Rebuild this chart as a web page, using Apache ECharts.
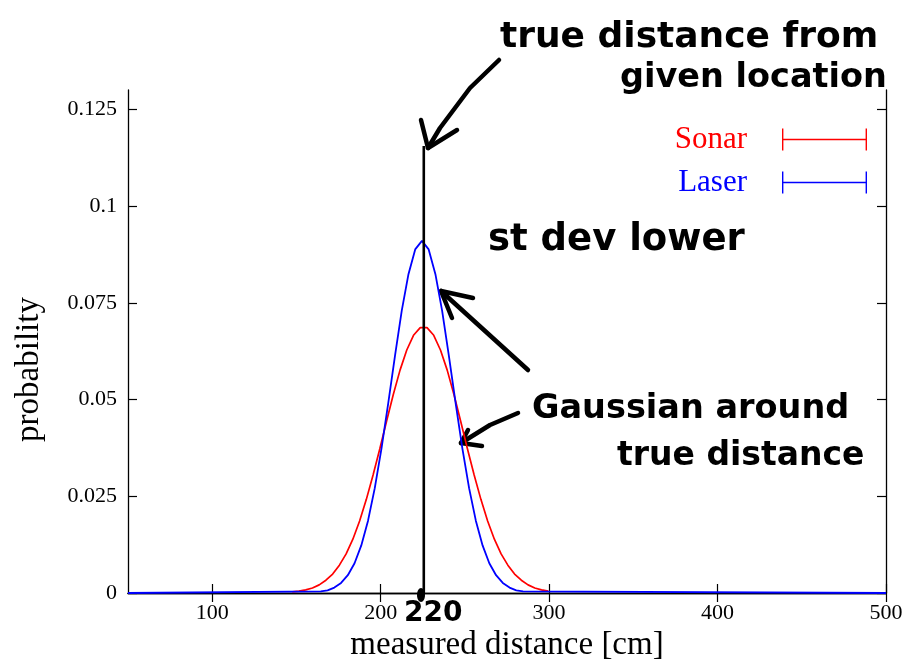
<!DOCTYPE html>
<html>
<head>
<meta charset="utf-8">
<script src="https://cdn.jsdelivr.net/npm/echarts@6/dist/echarts.min.js"></script>
<style>html,body{margin:0;padding:0;background:#fff}#c{width:903px;height:663px}</style>
</head>
<body>
<div id="c"></div>
<script>
// ---- data ----
const xTicks = [100, 200, 300, 400, 500];
const yTicks = [0, 0.025, 0.05, 0.075, 0.1, 0.125];
const sonarX = [147.5,151.5,155.5,159.5,163.5,167.5,171.5,175.5,179.5,183.5,187.5,191.5,195.5,199.5,203.5,207.5,211.5,215.5,219.5,223.5,227.5,231.5,235.5,239.5,243.5,247.5,251.5,255.5,259.5,263.5,267.5,271.5,275.5,279.5,283.5,287.5,291.5,295.5,299.5];
const sonarY = [0.0003,0.0005,0.0008,0.0013,0.0021,0.0033,0.0049,0.0072,0.0101,0.0139,0.0186,0.0242,0.0305,0.0373,0.0444,0.0513,0.0576,0.0628,0.0666,0.0686,0.0686,0.0666,0.0628,0.0576,0.0513,0.0444,0.0373,0.0305,0.0242,0.0186,0.0139,0.0101,0.0072,0.0049,0.0033,0.0021,0.0013,0.0008,0.0005];
const laserX = [50,164.5,168.5,172.5,176.5,180.5,184.5,188.5,192.5,196.5,200.5,204.5,208.5,212.5,216.5,220.5,224.5,228.5,232.5,236.5,240.5,244.5,248.5,252.5,256.5,260.5,264.5,268.5,272.5,276.5,280.5,284.5,500];
const laserY = [0,0.0004,0.0007,0.0014,0.0026,0.0046,0.0077,0.0123,0.0187,0.0271,0.0374,0.0491,0.0613,0.0729,0.0824,0.0888,0.091,0.0888,0.0824,0.0729,0.0613,0.0491,0.0374,0.0271,0.0187,0.0123,0.0077,0.0046,0.0026,0.0014,0.0007,0.0004,0];
const trueDistance = 225.6;
const markerTop = 0.1155;

const pairs = (xs, ys) => xs.map((x, i) => [x, ys[i]]);
const serif = '"Liberation Serif", "DejaVu Serif", serif';
const hand = '"DejaVu Sans", sans-serif';
const capIcon = 'path://M0,0H1.4V22H0Z M1.4,10.3H83.6V11.7H1.4Z M83.6,0H85V22H83.6Z';

const chart = echarts.init(document.getElementById('c'), null, {renderer: 'canvas'});
const axisLine = {show: true, lineStyle: {color: '#000', width: 1.3}};
const tickStyle = {color: '#000', width: 1.2};

chart.setOption({
  animation: false,
  backgroundColor: '#fff',
  grid: {left: 128, right: 17, top: 90, bottom: 70, containLabel: false, outerBoundsMode: 'none'},
  legend: {
    data: [
      {name: 'Sonar', icon: capIcon, textStyle: {color: '#ff0000'}},
      {name: 'Laser', icon: capIcon, textStyle: {color: '#0000ff'}}
    ],
    orient: 'vertical', right: 31, top: 119, align: 'right',
    itemWidth: 85, itemHeight: 22, itemGap: 12,
    textStyle: {fontFamily: serif, fontSize: 31, padding: [0, 30, 0, 0]},
    selectedMode: false
  },
  xAxis: [{
    type: 'value', min: 50, max: 500, position: 'bottom',
    name: 'measured distance [cm]', nameLocation: 'middle', nameGap: 34,
    nameTextStyle: {fontFamily: serif, fontSize: 33, color: '#000'},
    axisLine: axisLine,
    axisTick: {show: true, inside: true, length: 9, lineStyle: tickStyle, customValues: xTicks},
    axisLabel: {fontFamily: serif, fontSize: 22, color: '#000', margin: 9, customValues: xTicks},
    splitLine: {show: false}
  }, {
    type: 'value', min: 50, max: 500, position: 'top',
    axisLine: axisLine,
    axisTick: {show: true, inside: true, length: 9, lineStyle: tickStyle, customValues: xTicks},
    axisLabel: {show: false},
    splitLine: {show: false}
  }],
  yAxis: [{
    type: 'value', min: 0, max: 0.13, position: 'left',
    name: 'probability', nameLocation: 'middle', nameGap: 82, nameRotate: 90,
    nameTextStyle: {fontFamily: serif, fontSize: 33, color: '#000', padding: [0, 56, 0, 0]},
    axisLine: axisLine,
    axisTick: {show: true, inside: true, length: 9, lineStyle: tickStyle, customValues: yTicks},
    axisLabel: {fontFamily: serif, fontSize: 22, color: '#000', margin: 11, customValues: yTicks,
      formatter: v => String(+v.toFixed(3))},
    splitLine: {show: false}
  }, {
    type: 'value', min: 0, max: 0.13, position: 'right',
    axisLine: axisLine,
    axisTick: {show: true, inside: true, length: 9, lineStyle: tickStyle, customValues: yTicks},
    axisLabel: {show: false},
    splitLine: {show: false}
  }],
  series: [{
    name: 'Sonar', type: 'line', data: pairs(sonarX, sonarY),
    showSymbol: false, symbol: 'none', color: '#ff0000',
    lineStyle: {color: '#ff0000', width: 1.7}, silent: true, z: 2
  }, {
    name: 'Laser', type: 'line', data: pairs(laserX, laserY),
    showSymbol: false, symbol: 'none', color: '#0000ff',
    lineStyle: {color: '#0000ff', width: 1.8}, silent: true, z: 3
  }, {
    name: 'true distance', type: 'line', data: [[trueDistance, 0], [trueDistance, markerTop]],
    showSymbol: false, symbol: 'none', color: '#000',
    lineStyle: {color: '#000', width: 2.6}, silent: true, z: 4
  }],
  graphic: [
    // handwritten annotations
    {type: 'text', left: 500, top: 20, style: {text: 'true distance from', font: 'bold 36px ' + hand, fill: '#000'}},
    {type: 'text', left: 620, top: 61, style: {text: 'given location', font: 'bold 33.5px ' + hand, fill: '#000'}},
    {type: 'text', left: 488, top: 222, style: {text: 'st dev lower', font: 'bold 37px ' + hand, fill: '#000'}},
    {type: 'text', left: 532, top: 392, style: {text: 'Gaussian around', font: 'bold 33.5px ' + hand, fill: '#000'}},
    {type: 'text', left: 617, top: 440, style: {text: 'true distance', font: 'bold 33px ' + hand, fill: '#000'}},
    {type: 'text', left: 404, top: 600, style: {text: '220', font: 'bold 28px ' + hand, fill: '#000'}, z: 10},
    {type: 'ellipse', shape: {cx: 421, cy: 595, rx: 4, ry: 7}, style: {fill: '#000'}, z: 10},
    // arrow 1
    {type: 'polyline', shape: {points: [[499, 60], [470, 88], [440, 128], [428, 148]]}, style: {stroke: '#000', lineWidth: 4.5, fill: null, lineCap: 'round', lineJoin: 'round'}},
    {type: 'polyline', shape: {points: [[421, 120], [428, 148], [457, 130]]}, style: {stroke: '#000', lineWidth: 4.5, fill: null, lineCap: 'round', lineJoin: 'round'}},
    // arrow 2
    {type: 'polyline', shape: {points: [[528, 370], [441, 291]]}, style: {stroke: '#000', lineWidth: 4.5, fill: null, lineCap: 'round'}},
    {type: 'polyline', shape: {points: [[452, 318], [441, 291], [473, 298]]}, style: {stroke: '#000', lineWidth: 4.5, fill: null, lineCap: 'round', lineJoin: 'round'}},
    // arrow 3
    {type: 'polyline', shape: {points: [[518, 413], [490, 425], [461, 443]]}, style: {stroke: '#000', lineWidth: 4.5, fill: null, lineCap: 'round', lineJoin: 'round'}},
    {type: 'polyline', shape: {points: [[468, 430], [461, 443], [482, 446]]}, style: {stroke: '#000', lineWidth: 4.5, fill: null, lineCap: 'round', lineJoin: 'round'}}
  ]
});
</script>
</body>
</html>
